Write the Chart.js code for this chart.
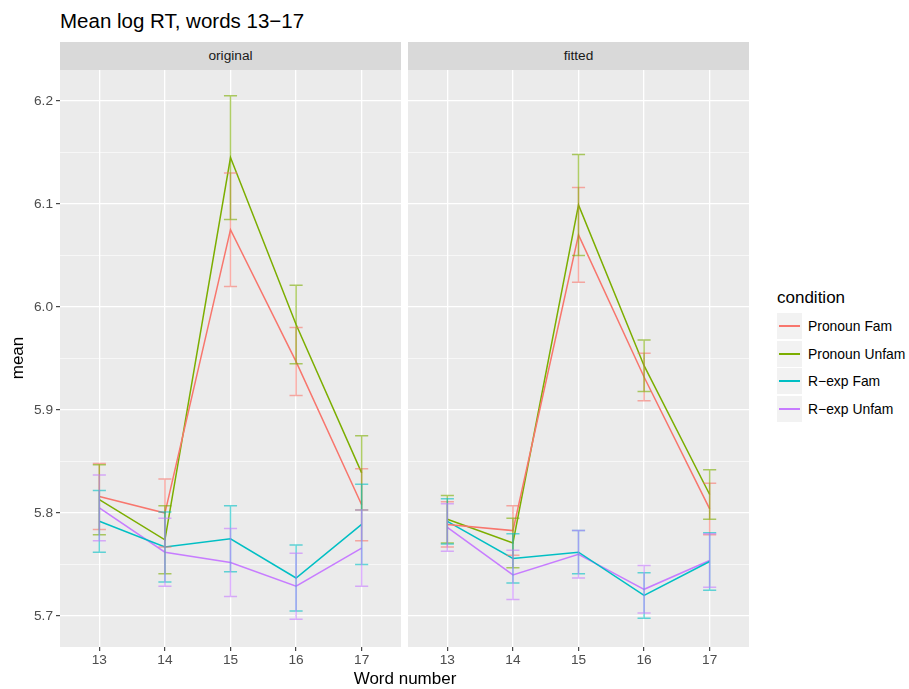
<!DOCTYPE html>
<html>
<head>
<meta charset="utf-8">
<script src="https://cdn.jsdelivr.net/npm/chart.js@4"></script>
<style>
  body { margin: 0; background: #fff; font-family: "Liberation Sans", Arial, sans-serif; }
  #wrap { position: relative; width: 909px; height: 689px; overflow: hidden; }
  .abs { position: absolute; }
  .strip { background: #D9D9D9; color: #1A1A1A; font-size: 13.7px; text-align: center; height: 28px; line-height: 28px; }
  .key { width: 25px; height: 26px; background: #F2F2F2; }
  .key span { position: absolute; left: 2px; right: 2px; top: 12px; height: 2px; }
  .lab { font-size: 13.9px; color: #000; line-height: 16px; }
</style>
</head>
<body>
<div id="wrap">
  <div class="abs" style="left:60px;top:9px;font-size:20.5px;line-height:24px;color:#000">Mean log RT, words 13−17</div>
  <div class="abs strip" style="left:60px;top:42px;width:341px">original</div>
  <div class="abs strip" style="left:408px;top:42px;width:341px">fitted</div>
  <canvas id="left" class="abs" width="401" height="614" style="left:0;top:58px"></canvas>
  <canvas id="right" class="abs" width="341" height="614" style="left:408px;top:58px"></canvas>
  <div class="abs" style="left:352px;top:669px;width:106px;text-align:center;font-size:17px;line-height:20px;white-space:nowrap">Word number</div>
  <div class="abs" style="left:-12px;top:348px;width:60px;text-align:center;font-size:17px;line-height:20px;transform:rotate(-90deg)">mean</div>
  <div id="legend" class="abs" style="left:777px;top:288px"></div>
</div>
<script>
const words = [13, 14, 15, 16, 17];
const conditions = ['Pronoun Fam', 'Pronoun Unfam', 'R−exp Fam', 'R−exp Unfam'];
const colors = ['#F8766D', '#7CAE00', '#00BFC4', '#C77CFF'];
const yTicks = [5.7, 5.8, 5.9, 6.0, 6.1, 6.2];

// original
const origPronounFam = [5.816, 5.800, 6.075, 5.947, 5.808];
const origPronounFamSE = [0.032, 0.033, 0.055, 0.033, 0.035];
const origPronounUnfam = [5.813, 5.774, 6.145, 5.983, 5.839];
const origPronounUnfamSE = [0.034, 0.033, 0.060, 0.038, 0.036];
const origRexpFam = [5.792, 5.767, 5.775, 5.737, 5.789];
const origRexpFamSE = [0.030, 0.034, 0.032, 0.032, 0.039];
const origRexpUnfam = [5.805, 5.762, 5.752, 5.729, 5.766];
const origRexpUnfamSE = [0.032, 0.033, 0.033, 0.032, 0.037];

// fitted
const fitPronounFam = [5.789, 5.783, 6.070, 5.932, 5.804];
const fitPronounFamSE = [0.022, 0.024, 0.046, 0.023, 0.025];
const fitPronounUnfam = [5.794, 5.771, 6.099, 5.943, 5.818];
const fitPronounUnfamSE = [0.023, 0.024, 0.049, 0.025, 0.024];
const fitRexpFam = [5.792, 5.756, 5.762, 5.720, 5.753];
const fitRexpFamSE = [0.022, 0.024, 0.021, 0.022, 0.028];
const fitRexpUnfam = [5.786, 5.740, 5.760, 5.726, 5.754];
const fitRexpUnfamSE = [0.023, 0.024, 0.023, 0.023, 0.026];

Chart.defaults.font.family = '"Liberation Sans", Arial, sans-serif';

const hexA = (hex, a) => {
  const n = parseInt(hex.slice(1), 16);
  return `rgba(${n >> 16},${(n >> 8) & 255},${n & 255},${a})`;
};

// grey panel background
const panelBg = {
  id: 'panelBg',
  beforeDraw(chart) {
    const { ctx, chartArea: a } = chart;
    ctx.save();
    ctx.fillStyle = '#EBEBEB';
    ctx.fillRect(a.left, a.top, a.right - a.left, a.bottom - a.top);
    ctx.restore();
  }
};

// error bars, drawn through the chart's own scales
const errorBars = {
  id: 'errorBars',
  afterDatasetsDraw(chart) {
    const { ctx, scales: { x, y } } = chart;
    ctx.save();
    ctx.lineWidth = 1.5;
    chart.data.datasets.forEach(ds => {
      ctx.strokeStyle = hexA(ds.borderColor, 0.6);
      ds.data.forEach((p, i) => {
        const se = ds.se[i];
        const xc = x.getPixelForValue(p.x);
        const x0 = x.getPixelForValue(p.x - 0.1);
        const x1 = x.getPixelForValue(p.x + 0.1);
        const yt = y.getPixelForValue(p.y + se);
        const yb = y.getPixelForValue(p.y - se);
        ctx.beginPath();
        ctx.moveTo(x0, yt); ctx.lineTo(x1, yt);
        ctx.moveTo(xc, yt); ctx.lineTo(xc, yb);
        ctx.moveTo(x0, yb); ctx.lineTo(x1, yb);
        ctx.stroke();
      });
    });
    ctx.restore();
  }
};

const makePanel = (id, means, ses, showY) => {
  const datasets = conditions.map((c, k) => ({
    label: c,
    data: words.map((w, i) => ({ x: w, y: means[k][i] })),
    se: ses[k],
    borderColor: colors[k],
    borderWidth: 1.5,
    pointRadius: 0,
    tension: 0,
    fill: false
  }));
  const yAll = [];
  yTicks.forEach((t, i) => {
    yAll.push(t);
    if (i < yTicks.length - 1) yAll.push(+(t + 0.05).toFixed(2));
  });
  new Chart(document.getElementById(id), {
    type: 'line',
    data: { datasets },
    options: {
      responsive: false,
      animation: false,
      layout: { padding: { top: 12, left: 0, right: 0, bottom: 0 } },
      plugins: { legend: { display: false }, tooltip: { enabled: false } },
      scales: {
        x: {
          type: 'linear',
          min: 12.4,
          max: 17.6,
          afterBuildTicks: s => { s.ticks = words.map(v => ({ value: v })); },
          afterFit: s => { s.height = 25; },
          border: { display: false },
          grid: { color: '#FFFFFF', lineWidth: 1.3, drawTicks: true, tickLength: 4, tickColor: '#333333', tickWidth: 1.1 },
          ticks: { color: '#4D4D4D', font: { size: 13.7 }, padding: 1, maxRotation: 0, callback: v => String(v) }
        },
        y: {
          type: 'linear',
          min: 5.67,
          max: 6.23,
          afterBuildTicks: s => { s.ticks = yAll.map(v => ({ value: v })); },
          afterFit: s => { s.width = showY ? 60 : 0; },
          border: { display: false },
          grid: {
            color: '#FFFFFF',
            lineWidth: c => (c.index % 2 ? 0.6 : 1.3),
            drawTicks: showY,
            tickLength: 4,
            tickColor: c => (c.index % 2 ? 'rgba(0,0,0,0)' : '#333333'),
            tickWidth: 1.1
          },
          ticks: {
            display: showY,
            color: '#4D4D4D',
            font: { size: 13.7 },
            padding: 3,
            autoSkip: false,
            callback: (v, i) => (i % 2 ? '' : v.toFixed(1))
          }
        }
      }
    },
    plugins: [panelBg, errorBars]
  });
};

makePanel('left',
  [origPronounFam, origPronounUnfam, origRexpFam, origRexpUnfam],
  [origPronounFamSE, origPronounUnfamSE, origRexpFamSE, origRexpUnfamSE], true);
makePanel('right',
  [fitPronounFam, fitPronounUnfam, fitRexpFam, fitRexpUnfam],
  [fitPronounFamSE, fitPronounUnfamSE, fitRexpFamSE, fitRexpUnfamSE], false);

// legend
const lg = document.getElementById('legend');
let html = '<div class="abs" style="left:0;top:0;font-size:17px;line-height:20px;white-space:nowrap">condition</div>';
conditions.forEach((c, k) => {
  const top = Math.round(25 + k * 27.7);
  html += `<div class="abs key" style="left:0;top:${top}px"><span style="background:${colors[k]}"></span></div>`;
  html += `<div class="abs lab" style="left:31px;top:${top + 5}px;white-space:nowrap">${c}</div>`;
});
lg.innerHTML = html;
</script>
</body>
</html>
